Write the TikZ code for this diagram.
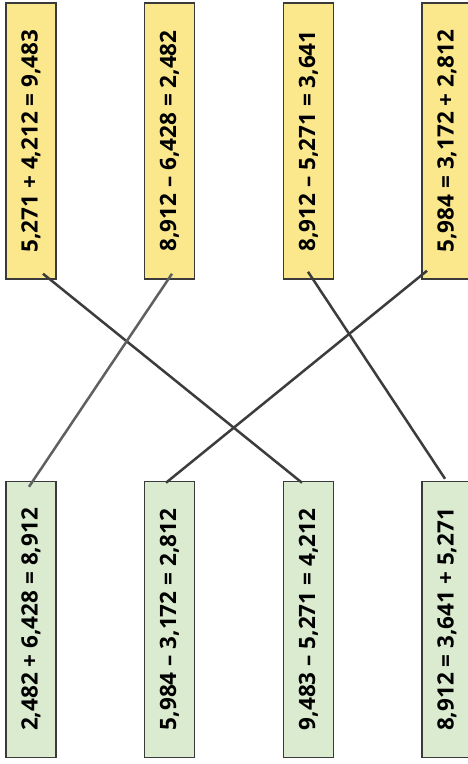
\documentclass[tikz,border=0pt]{standalone}
\usepackage{fontspec}
\setmainfont{Open Sans}
\definecolor{boxyellow}{HTML}{FBE88D}
\definecolor{boxgreen}{HTML}{DAEBCF}
\definecolor{boxline}{HTML}{3A3A3A}
\definecolor{linkline}{HTML}{3C3C3C}
\begin{document}
\begin{tikzpicture}[x=1pt,y=-1pt,
  eqbox/.style={draw=boxline,line width=1.5pt,minimum width=50pt,minimum height=276pt,inner sep=0pt,font=\fontsize{22.5}{26}\selectfont\bfseries},
  topbox/.style={eqbox,fill=boxyellow},
  botbox/.style={eqbox,fill=boxgreen},
  link/.style={draw=linkline,line width=2.5pt}]
\useasboundingbox (0,0) rectangle (468,764);
\fill[white] (0,0) rectangle (468,764);
\node[topbox] (t1) at (31,141) {\rotatebox{90}{5,271 + 4,212 = 9,483}};
\node[topbox] (t2) at (169.5,141) {\rotatebox{90}{8,912 – 6,428 = 2,482}};
\node[topbox] (t3) at (308.5,141) {\rotatebox{90}{8,912 – 5,271 = 3,641}};
\node[topbox] (t4) at (447,141) {\rotatebox{90}{5,984 = 3,172 + 2,812}};
\node[botbox] (b1) at (31,619.5) {\rotatebox{90}{2,482 + 6,428 = 8,912}};
\node[botbox] (b2) at (169.5,619.5) {\rotatebox{90}{5,984 – 3,172 = 2,812}};
\node[botbox] (b3) at (308.5,619.5) {\rotatebox{90}{9,483 – 5,271 = 4,212}};
\node[botbox] (b4) at (447,619.5) {\rotatebox{90}{8,912 = 3,641 + 5,271}};
\coordinate (p1) at ([shift={(12,-6)}]t1.south);
\coordinate (q3) at ([shift={(-6.5,2)}]b3.north);
\coordinate (p2) at ([shift={(2.5,-6)}]t2.south);
\coordinate (q1) at ([shift={(-2,6)}]b1.north);
\coordinate (p3) at ([shift={(-0.5,-8)}]t3.south);
\coordinate (q4) at ([shift={(-2,-2)}]b4.north);
\coordinate (p4) at ([shift={(-20,-9)}]t4.south);
\coordinate (q2) at ([shift={(-3.5,2)}]b2.north);
\draw[link] (p1) -- (q3);
\draw[link,draw=gray!75!black] (p2) -- (q1);
\draw[link] (p3) -- (q4);
\draw[link] (p4) -- (q2);
\end{tikzpicture}
\end{document}
